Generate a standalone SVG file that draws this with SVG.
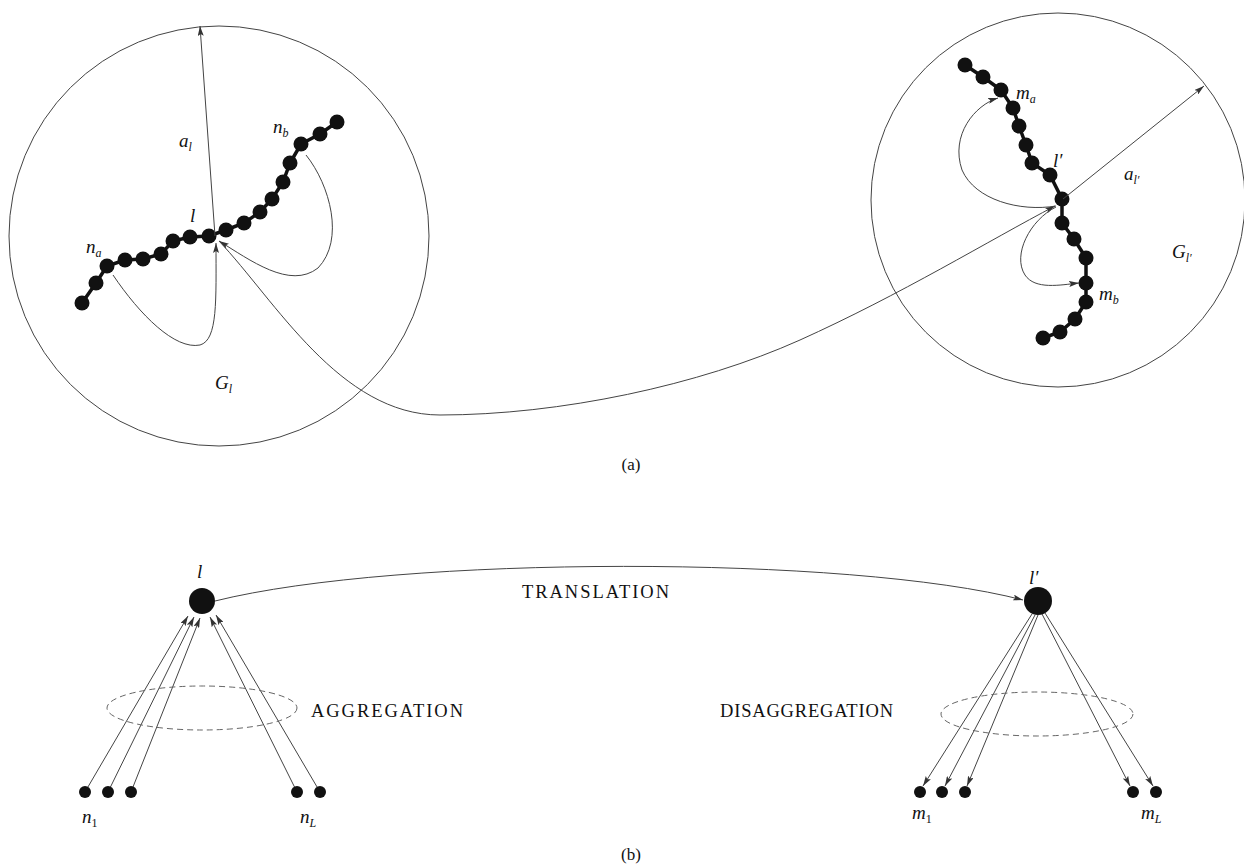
<svg xmlns="http://www.w3.org/2000/svg" width="1244" height="864" viewBox="0 0 1244 864">
<defs>
<marker id="arr" markerUnits="userSpaceOnUse" markerWidth="10" markerHeight="6" refX="10" refY="3" orient="auto">
<path d="M0,0 L10,3 L0,6 L2,3 z" fill="#333"/>
</marker>
<style>
.ln{fill:none;stroke:#444;stroke-width:1}
.circ{fill:none;stroke:#444;stroke-width:1}
.chain{fill:none;stroke:#111;stroke-width:3.5}
.dot{fill:#111}
.dash{fill:none;stroke:#666;stroke-width:1;stroke-dasharray:6,4}
.m{font-family:"Liberation Serif",serif;font-style:italic;font-size:19px;fill:#111}
.sub{font-size:12px}
.up{font-style:normal}
.t{font-family:"Liberation Serif",serif;font-size:18.5px;fill:#111}
.c{font-family:"Liberation Serif",serif;font-size:17px;fill:#111}
</style>
</defs>
<rect width="1244" height="864" fill="#fff"/>

<g id="region-Gl">
<circle class="circ" cx="219" cy="236" r="210"/>
<text class="m" x="215" y="389">G<tspan class="sub" dy="4">l</tspan></text>
<text class="m" x="179" y="147">a<tspan class="sub" dy="4">l</tspan></text>
</g>

<g id="chain-l">
<polyline class="chain" points="82,303 96,283 107,266 125,260 143,259 161,254 173,241 190,237 209,236 226,230 244,223 260,212 272,199 283,182 290,163 301,144 320,134 337,122"/>
<g class="dot">
<circle cx="82" cy="303" r="7.5"/><circle cx="96" cy="283" r="7.5"/><circle cx="107" cy="266" r="7.5"/>
<circle cx="125" cy="260" r="7.5"/><circle cx="143" cy="259" r="7.5"/><circle cx="161" cy="254" r="7.5"/>
<circle cx="173" cy="241" r="7.5"/><circle cx="190" cy="237" r="7.5"/><circle cx="209" cy="236" r="7.5"/>
<circle cx="226" cy="230" r="7.5"/><circle cx="244" cy="223" r="7.5"/><circle cx="260" cy="212" r="7.5"/>
<circle cx="272" cy="199" r="7.5"/><circle cx="283" cy="182" r="7.5"/><circle cx="290" cy="163" r="7.5"/>
<circle cx="301" cy="144" r="7.5"/><circle cx="320" cy="134" r="7.5"/><circle cx="337" cy="122" r="7.5"/>
</g>
<text class="m" x="190" y="222">l</text>
<text class="m" x="86" y="253">n<tspan class="sub" dy="4">a</tspan></text>
<text class="m" x="273" y="133">n<tspan class="sub" dy="4">b</tspan></text>
</g>

<g id="region-Gl2">
<circle class="circ" cx="1058" cy="200" r="187"/>
<text class="m" x="1172" y="258">G<tspan class="sub" dy="4">l′</tspan></text>
<text class="m" x="1124" y="180">a<tspan class="sub" dy="4">l′</tspan></text>
</g>

<g id="chain-l2">
<polyline class="chain" points="965,65 983,77 1001,90 1013,108 1019,126 1026,145 1032,163 1050,175 1062,199 1062,223 1074,239 1086,258 1086,283 1086,302 1075,319 1060,332 1043,338"/>
<g class="dot">
<circle cx="965" cy="65" r="7.5"/><circle cx="983" cy="77" r="7.5"/><circle cx="1001" cy="90" r="7.5"/>
<circle cx="1013" cy="108" r="7.5"/><circle cx="1019" cy="126" r="7.5"/><circle cx="1026" cy="145" r="7.5"/>
<circle cx="1032" cy="163" r="7.5"/><circle cx="1050" cy="175" r="7.5"/><circle cx="1062" cy="199" r="7.5"/>
<circle cx="1062" cy="223" r="7.5"/><circle cx="1074" cy="239" r="7.5"/><circle cx="1086" cy="258" r="7.5"/>
<circle cx="1086" cy="283" r="7.5"/><circle cx="1086" cy="302" r="7.5"/><circle cx="1075" cy="319" r="7.5"/>
<circle cx="1060" cy="332" r="7.5"/><circle cx="1043" cy="338" r="7.5"/>
</g>
<text class="m" x="1053" y="167">l′</text>
<text class="m" x="1016" y="99">m<tspan class="sub" dy="4">a</tspan></text>
<text class="m" x="1099" y="300">m<tspan class="sub" dy="4">b</tspan></text>
</g>

<g id="connectors">
<path class="ln" d="M215,236 L200,26" marker-end="url(#arr)"/>
<path class="ln" d="M113,275 C140,315 175,350 200,345 C218,340 216,300 216,243" marker-end="url(#arr)"/>
<path class="ln" d="M306,155 C330,185 345,240 318,268 C290,290 250,260 219,241" marker-end="url(#arr)"/>
<path class="ln" d="M219,241 C275,300 340,415 440,415 C560,415 700,385 800,340 C900,295 990,240 1055,206" marker-end="url(#arr)"/>
<path class="ln" d="M1063,199 L1204,86" marker-end="url(#arr)"/>
<path class="ln" d="M1056,206 C1020,212 975,200 962,170 C950,135 975,105 998,98" marker-end="url(#arr)"/>
<path class="ln" d="M1056,207 C1030,220 1012,255 1025,275 C1035,290 1060,285 1079,283" marker-end="url(#arr)"/>

<path class="ln" d="M215,601 C400,555 850,555 1023,600" marker-end="url(#arr)"/>
<path class="ln" d="M85,792 L188,616" marker-end="url(#arr)"/>
<path class="ln" d="M108,792 L194,617" marker-end="url(#arr)"/>
<path class="ln" d="M131,792 L200,618" marker-end="url(#arr)"/>
<path class="ln" d="M297,792 L210,617" marker-end="url(#arr)"/>
<path class="ln" d="M320,792 L216,615" marker-end="url(#arr)"/>

<path class="ln" d="M1032,614 L923,786" marker-end="url(#arr)"/>
<path class="ln" d="M1035,615 L945,786" marker-end="url(#arr)"/>
<path class="ln" d="M1038,615 L967,786" marker-end="url(#arr)"/>
<path class="ln" d="M1042,614 L1130,786" marker-end="url(#arr)"/>
<path class="ln" d="M1045,613 L1153,786" marker-end="url(#arr)"/>
</g>

<g id="agg">
<ellipse class="dash" cx="202" cy="708" rx="95" ry="22"/>
<circle class="dot" cx="202" cy="601" r="13"/>
<text class="m" x="197" y="578">l</text>
<circle class="dot" cx="85" cy="792" r="6"/>
<circle class="dot" cx="108" cy="792" r="6"/>
<circle class="dot" cx="131" cy="792" r="6"/>
<circle class="dot" cx="297" cy="792" r="6"/>
<circle class="dot" cx="320" cy="792" r="6"/>
<text class="m" x="82" y="823">n<tspan class="sub up" dy="4">1</tspan></text>
<text class="m" x="300" y="823">n<tspan class="sub" dy="4">L</tspan></text>
<text class="t" x="311" y="717" textLength="152" lengthAdjust="spacing">AGGREGATION</text>
</g>

<g id="disagg">
<ellipse class="dash" cx="1037" cy="714" rx="96" ry="22"/>
<circle class="dot" cx="1038" cy="601" r="14"/>
<text class="m" x="1029" y="584">l′</text>
<circle class="dot" cx="920" cy="792" r="6"/>
<circle class="dot" cx="942" cy="792" r="6"/>
<circle class="dot" cx="965" cy="792" r="6"/>
<circle class="dot" cx="1133" cy="792" r="6"/>
<circle class="dot" cx="1156" cy="792" r="6"/>
<text class="m" x="912" y="819">m<tspan class="sub up" dy="4">1</tspan></text>
<text class="m" x="1141" y="819">m<tspan class="sub" dy="4">L</tspan></text>
<text class="t" x="720" y="717" textLength="173" lengthAdjust="spacing">DISAGGREGATION</text>
</g>

<g id="captions">
<text class="t" x="522" y="598" textLength="147" lengthAdjust="spacing">TRANSLATION</text>
<text class="c" x="631" y="470" text-anchor="middle">(a)</text>
<text class="c" x="631" y="860" text-anchor="middle">(b)</text>
</g>
</svg>
